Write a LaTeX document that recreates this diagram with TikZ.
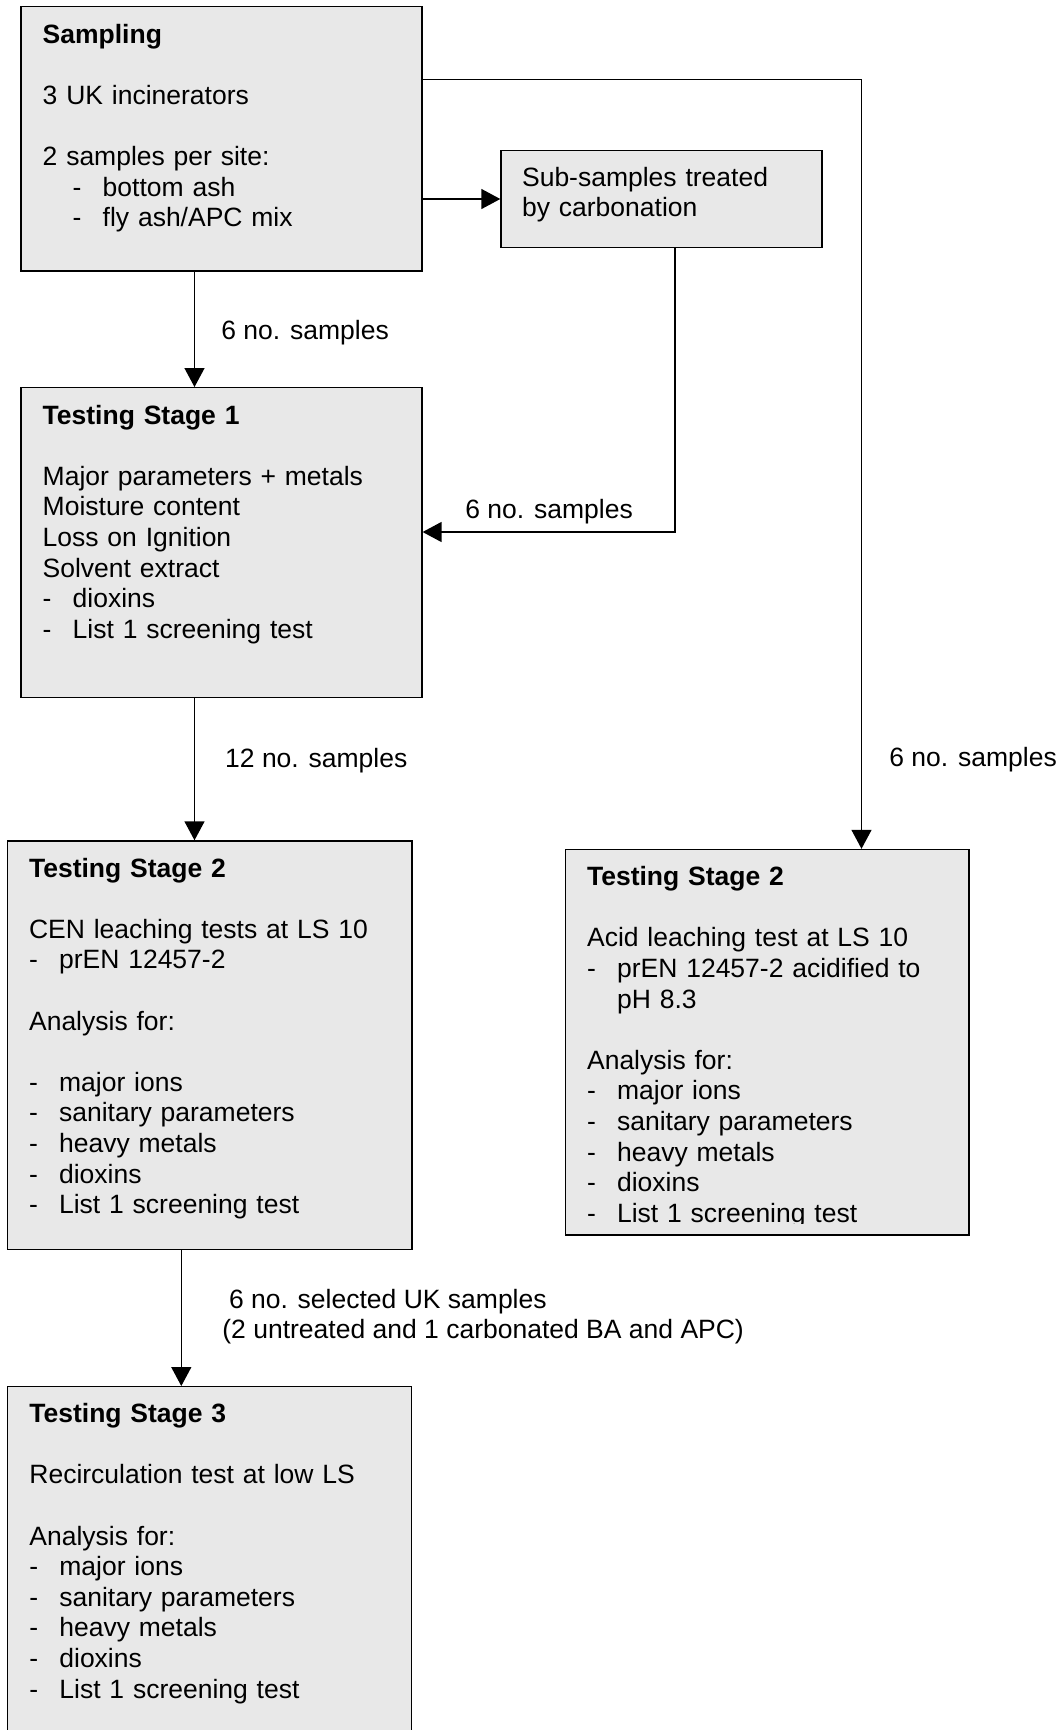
\documentclass[tikz,border=0pt]{standalone}
\usepackage{fontspec}
\setmainfont{Liberation Sans}
\usetikzlibrary{arrows.meta,fit}
\definecolor{boxgray}{HTML}{E8E8E8}
\newcommand{\itm}{\makebox[15pt][l]{-}}
\newcommand{\ind}{\hspace*{15pt}}
\newcommand{\bl}{\\[15.3pt]}
\begin{document}
\begin{tikzpicture}[x=0.5pt,y=-0.5pt,
  box/.style={draw=black,line width=0.7pt,fill=boxgray,inner sep=0pt,rectangle},
  txt/.style={anchor=base west,inner sep=0pt,text width=200pt,align=left,font=\fontsize{13.25pt}{15.3pt}\selectfont},
  lbl/.style={anchor=base west,inner sep=0pt,font=\fontsize{13.25pt}{15.3pt}\selectfont},
  conn/.style={line width=0.7pt},
  arr/.style={conn,-{Triangle[length=9.5pt,width=10pt]}}]
\useasboundingbox (0,0) rectangle (1061,1730);
\clip (0,0) rectangle (1061,1730);
\fill[white] (0,0) rectangle (1061,1730);

% boxes
\node[box, fit={(21,6.7) (421.9,271)}] (sampling) {};
\node[box, fit={(501,150.7) (822,247.3)}] (sub) {};
\node[box, fit={(21,387.7) (421.9,697.3)}] (s1) {};
\node[box, fit={(7.4,841) (411.8,1249.3)}] (s2a) {};
\node[box, fit={(565.7,849.5) (969,1235)}] (s2b) {};
\node[box, fit={(7.7,1386.7) (411.5,1750)}] (s3) {};

% box texts
\node[txt] (tsampling) at (42.3,43.3) {\textbf{Sampling}\bl
3 UK incinerators\bl
2 samples per site:\\
\ind\itm bottom ash\\
\ind\itm fly ash/APC mix};

\node[txt] (tsub) at (521.7,186) {Sub-samples treated\\
by carbonation};

\node[txt] (ts1) at (42.3,424) {\textbf{Testing Stage 1}\bl
Major parameters + metals\\
Moisture content\\
Loss on Ignition\\
Solvent extract\\
\itm dioxins\\
\itm List 1 screening test};

\node[txt] (ts2a) at (28.7,877) {\textbf{Testing Stage 2}\bl
CEN leaching tests at LS 10\\
\itm prEN 12457-2\bl
Analysis for:\bl
\itm major ions\\
\itm sanitary parameters\\
\itm heavy metals\\
\itm dioxins\\
\itm List 1 screening test};

\begin{scope}
\clip (565,849) rectangle (970,1223.5);
\node[txt] (ts2b) at (586.7,885.7) {\textbf{Testing Stage 2}\bl
Acid leaching test at LS 10\\
\itm prEN 12457-2 acidified to\\
\ind pH 8.3\bl
Analysis for:\\
\itm major ions\\
\itm sanitary parameters\\
\itm heavy metals\\
\itm dioxins\\
\itm List 1 screening test};
\end{scope}

\node[txt] (ts3) at (29,1422.7) {\textbf{Testing Stage 3}\bl
Recirculation test at low LS\bl
Analysis for:\\
\itm major ions\\
\itm sanitary parameters\\
\itm heavy metals\\
\itm dioxins\\
\itm List 1 screening test};

% connector positions
\coordinate (xa) at (194.5,0);
\coordinate (xb) at (861.5,0);
\coordinate (xc) at (675,0);
\coordinate (xd) at (181.3,0);
\coordinate (ya) at (0,79.3);
\coordinate (yb) at (0,532);

\draw[arr] (sampling.south -| xa) -- (s1.north -| xa);
\draw[arr] (sampling.east |- ya) -| (s2b.north -| xb);
\draw[arr] (sampling.east |- sub.west) -- (sub.west);
\draw[arr] (sub.south -| xc) |- (s1.east |- yb);
\draw[arr] (s1.south -| xa) -- (s2a.north -| xa);
\draw[arr] (s2a.south -| xd) -- (s3.north -| xd);

% connector labels
\node[lbl] (l1) at (221,339.3) {6 no. samples};
\node[lbl] (l2) at (465,518) {6 no. samples};
\node[lbl] (l3) at (224.8,767) {12 no. samples};
\node[lbl] (l4) at (889,766.7) {6 no. samples};
\node[lbl] (l5) at (228.6,1308) {6 no. selected UK samples};
\node[lbl] (l6) at (222,1338) {(2 untreated and 1 carbonated BA and APC)};
\end{tikzpicture}
\end{document}
